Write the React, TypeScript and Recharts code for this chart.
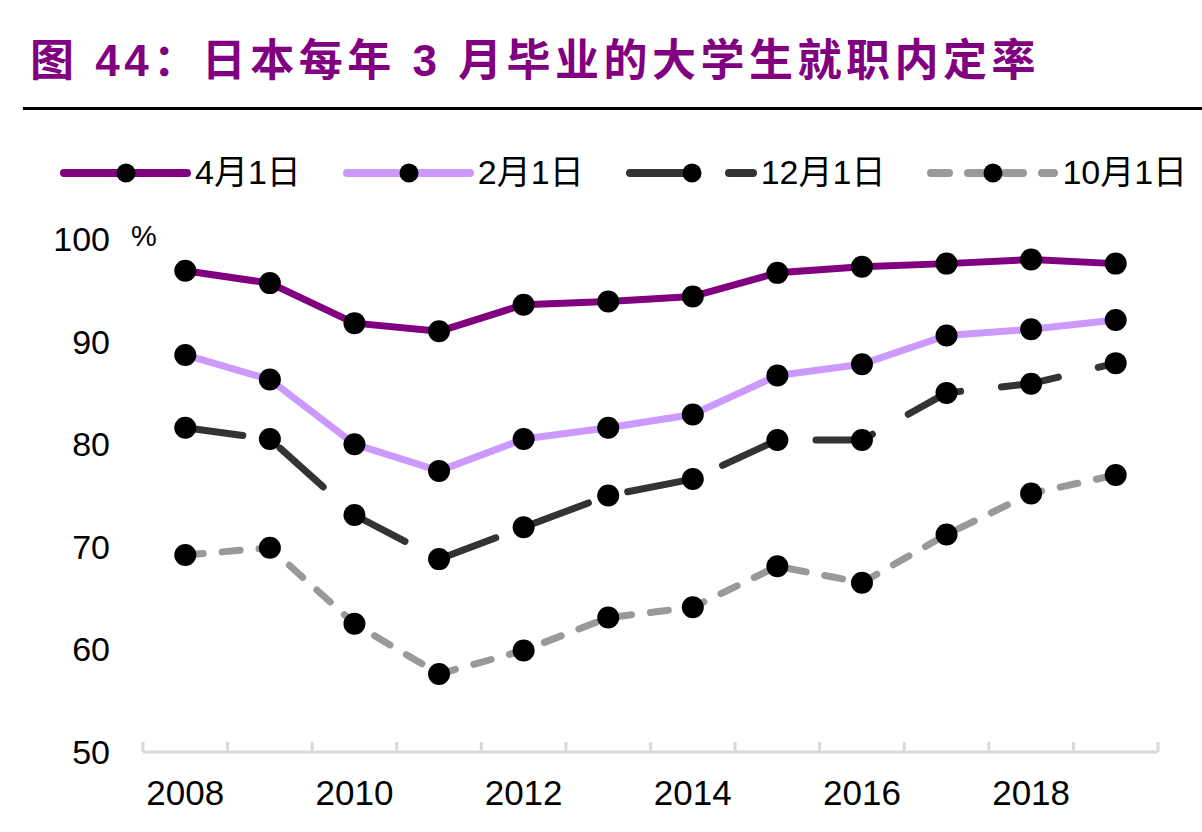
import { LineChart, Line, XAxis, YAxis } from "recharts";

const YEARS = [2008, 2009, 2010, 2011, 2012, 2013, 2014, 2015, 2016, 2017, 2018, 2019];
const APR_1 = [96.9, 95.7, 91.8, 91.0, 93.6, 93.9, 94.4, 96.7, 97.3, 97.6, 98.0, 97.6];
const FEB_1 = [88.7, 86.3, 80.0, 77.4, 80.5, 81.6, 82.9, 86.7, 87.8, 90.6, 91.2, 92.1];
const DEC_1 = [81.6, 80.5, 73.1, 68.8, 71.9, 75.0, 76.6, 80.4, 80.4, 85.0, 85.9, 87.9];
const OCT_1 = [69.2, 69.9, 62.5, 57.6, 59.9, 63.1, 64.1, 68.1, 66.5, 71.2, 75.2, 77.0];
const X_LABELS = [2008, 2010, 2012, 2014, 2016, 2018];
const Y_TICKS = [50, 60, 70, 80, 90, 100];

const FONT = '"Liberation Sans", Arial, "Noto Sans CJK SC", sans-serif';

const SERIES = [
  { key: "apr", name: "4月1日", color: "#800080", dash: undefined },
  { key: "feb", name: "2月1日", color: "#CC99FF", dash: undefined },
  { key: "dec", name: "12月1日", color: "#333333", dash: "58 41" },
  { key: "oct", name: "10月1日", color: "#999999", dash: "18 19" },
];

const data = YEARS.map((year, i) => ({
  year,
  apr: APR_1[i],
  feb: FEB_1[i],
  dec: DEC_1[i],
  oct: OCT_1[i],
}));

// tick marks sit between the years, labels on the years
const BOUNDS = [...YEARS.map((y) => y - 0.5), YEARS[YEARS.length - 1] + 0.5];
const DOMAIN: [number, number] = [BOUNDS[0], BOUNDS[BOUNDS.length - 1]];

const NoLabel = () => <g />;

function LegendRow() {
  return (
    <div
      style={{
        position: "absolute",
        left: 56,
        top: 152,
        display: "flex",
        alignItems: "center",
        gap: 38,
        fontFamily: FONT,
        fontSize: 34,
        color: "#000",
      }}
    >
      {SERIES.map((s) => (
        <div key={s.key} style={{ display: "flex", alignItems: "center" }}>
          <svg width={135} height={40}>
            <line
              x1={8}
              y1={21}
              x2={131}
              y2={21}
              stroke={s.color}
              strokeWidth={8}
              strokeLinecap="round"
              strokeDasharray={s.dash}
            />
            <circle cx={70} cy={21} r={9.5} fill="#000" />
          </svg>
          <span style={{ marginLeft: 4, lineHeight: "40px" }}>{s.name}</span>
        </div>
      ))}
    </div>
  );
}

export default function App() {
  return (
    <div
      style={{
        position: "absolute",
        left: 0,
        top: 0,
        width: 1202,
        height: 832,
        background: "#fff",
        fontFamily: FONT,
      }}
    >
      <div
        style={{
          position: "absolute",
          left: 30,
          top: 38,
          fontSize: 44,
          lineHeight: "46px",
          fontWeight: 700,
          letterSpacing: 4.5,
          color: "#800080",
          whiteSpace: "nowrap",
        }}
      >
        图 44：日本每年 3 月毕业的大学生就职内定率
      </div>
      <div
        style={{
          position: "absolute",
          left: 23,
          top: 107,
          width: 1179,
          height: 3,
          background: "#000",
        }}
      />
      <LegendRow />
      <div
        style={{
          position: "absolute",
          left: 131,
          top: 220,
          fontSize: 29,
          lineHeight: "32px",
          color: "#000",
        }}
      >
        %
      </div>
      <div style={{ position: "absolute", left: 0, top: 0 }}>
        <LineChart
          width={1202}
          height={832}
          data={data}
          margin={{ top: 239, right: 44, bottom: 0, left: 0 }}
        >
          <XAxis
            dataKey="year"
            type="number"
            domain={DOMAIN}
            ticks={BOUNDS}
            interval={0}
            height={12}
            mirror
            tick={NoLabel}
            tickSize={10}
            axisLine={{ stroke: "#D9D9D9", strokeWidth: 3 }}
            tickLine={{ stroke: "#D9D9D9", strokeWidth: 3 }}
          />
          <XAxis
            xAxisId="label"
            dataKey="year"
            type="number"
            domain={DOMAIN}
            ticks={X_LABELS}
            interval={0}
            height={80}
            axisLine={false}
            tickLine={false}
            tickSize={0}
            tickMargin={28}
            tick={{ fill: "#000", fontSize: 35, fontFamily: FONT }}
          />
          <YAxis
            domain={[50, 100]}
            ticks={Y_TICKS}
            interval={0}
            width={143}
            axisLine={false}
            tickLine={false}
            tickSize={0}
            tickMargin={33}
            tick={{ fill: "#000", fontSize: 34, fontFamily: FONT }}
          />
          {SERIES.map((s) => (
            <Line
              key={s.key}
              dataKey={s.key}
              name={s.name}
              stroke={s.color}
              strokeWidth={7}
              strokeLinecap="round"
              strokeLinejoin="round"
              strokeDasharray={s.dash}
              dot={{ r: 11, fill: "#000", stroke: "none" }}
              activeDot={false}
              isAnimationActive={false}
            />
          ))}
        </LineChart>
      </div>
    </div>
  );
}
